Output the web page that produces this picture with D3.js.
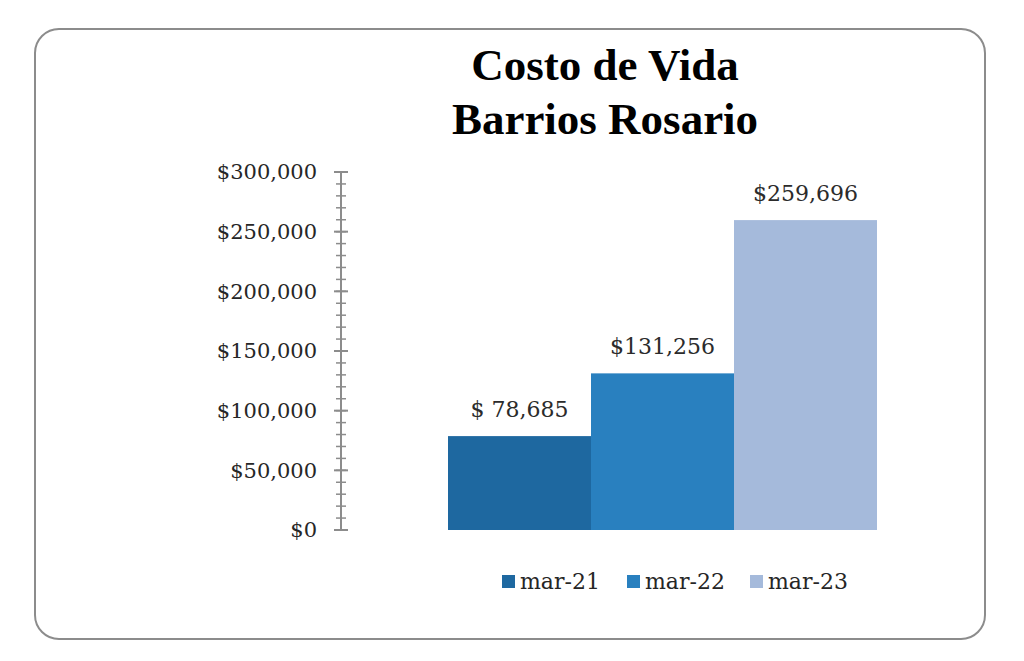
<!DOCTYPE html>
<html>
<head>
<meta charset="utf-8">
<script src="https://cdn.jsdelivr.net/npm/d3@7"></script>
<style>
  body { margin: 0; background: #fff; }
  text { font-family: "DejaVu Serif", serif; fill: #262626; }
</style>
</head>
<body>
<div id="chart"></div>
<script>
// datos
const titulo = ["Costo de Vida", "Barrios Rosario"];
const periodos = ["mar-21", "mar-22", "mar-23"];
const costos = [78685, 131256, 259696];
const etiquetas = ["$ 78,685", "$131,256", "$259,696"];
const colores = ["#1e68a0", "#2980bf", "#a5badb"];
const ticksY = [0, 50000, 100000, 150000, 200000, 250000, 300000];

const fullWidth = 1024,
  fullHeight = 661;

const svg = d3
  .select("#chart")
  .append("svg")
  .attr("width", fullWidth)
  .attr("height", fullHeight);

// marco redondeado
svg
  .append("rect")
  .attr("x", 35)
  .attr("y", 29)
  .attr("width", 950)
  .attr("height", 610)
  .attr("rx", 24)
  .attr("ry", 24)
  .attr("fill", "#fff")
  .attr("stroke", "#8c8c8c")
  .attr("stroke-width", 2);

// titulo
svg
  .selectAll(".titulo")
  .data(titulo)
  .enter()
  .append("text")
  .attr("class", "titulo")
  .attr("x", 605)
  .attr("y", (d, i) => 80 + i * 54)
  .style("text-anchor", "middle")
  .style("font-family", "'Liberation Serif', serif")
  .style("font-weight", "bold")
  .style("font-size", "45px")
  .style("fill", "#000")
  .text((d) => d);

const axisX = 341;

const yScale = d3.scaleLinear().domain([0, 300000]).range([530, 172]);

const xScale = d3
  .scaleBand()
  .domain(periodos)
  .range([448, 877])
  .padding(0);

// barras
svg
  .selectAll(".barra")
  .data(costos)
  .enter()
  .append("rect")
  .attr("class", "barra")
  .attr("x", (d, i) => xScale(periodos[i]))
  .attr("y", (d) => yScale(d))
  .attr("width", xScale.bandwidth())
  .attr("height", (d) => yScale(0) - yScale(d))
  .attr("fill", (d, i) => colores[i]);

// etiquetas de datos
svg
  .selectAll(".etiqueta")
  .data(costos)
  .enter()
  .append("text")
  .attr("class", "etiqueta")
  .attr("x", (d, i) => xScale(periodos[i]) + xScale.bandwidth() / 2)
  .attr("y", (d) => yScale(d) - 19)
  .style("text-anchor", "middle")
  .style("font-size", "22px")
  .style("fill", "#2b2b2b")
  .text((d, i) => etiquetas[i]);

// eje Y
const eje = svg.append("g").attr("transform", `translate(${axisX},0)`);

eje
  .append("line")
  .attr("y1", yScale(300000))
  .attr("y2", yScale(0))
  .attr("stroke", "#8c8c8c")
  .attr("stroke-width", 2);

// ticks menores cada 10.000
eje
  .selectAll(".menor")
  .data(yScale.ticks(30))
  .enter()
  .append("line")
  .attr("class", "menor")
  .attr("x1", -5)
  .attr("x2", 5)
  .attr("y1", (d) => yScale(d))
  .attr("y2", (d) => yScale(d))
  .attr("stroke", "#8c8c8c")
  .attr("stroke-width", 1.5);

eje
  .selectAll(".mayor")
  .data(ticksY)
  .enter()
  .append("line")
  .attr("class", "mayor")
  .attr("x1", -7)
  .attr("x2", 7)
  .attr("y1", (d) => yScale(d))
  .attr("y2", (d) => yScale(d))
  .attr("stroke", "#8c8c8c")
  .attr("stroke-width", 2);

const formato = d3.format("$,");

eje
  .selectAll(".tick-label")
  .data(ticksY)
  .enter()
  .append("text")
  .attr("class", "tick-label")
  .attr("x", -24)
  .attr("y", (d) => yScale(d))
  .attr("dy", "0.35em")
  .style("text-anchor", "end")
  .style("font-size", "21px")
  .style("fill", "#262626")
  .text((d) => formato(d));

// leyenda
const leyendaX = [502, 627, 750];

const leyenda = svg
  .selectAll(".leyenda")
  .data(periodos)
  .enter()
  .append("g")
  .attr("class", "leyenda")
  .attr("transform", (d, i) => `translate(${leyendaX[i]},575)`);

leyenda
  .append("rect")
  .attr("width", 13)
  .attr("height", 13)
  .attr("fill", (d, i) => colores[i]);

leyenda
  .append("text")
  .attr("x", 18)
  .attr("y", 14)
  .style("font-size", "22px")
  .style("fill", "#262626")
  .text((d) => d);
</script>
</body>
</html>
